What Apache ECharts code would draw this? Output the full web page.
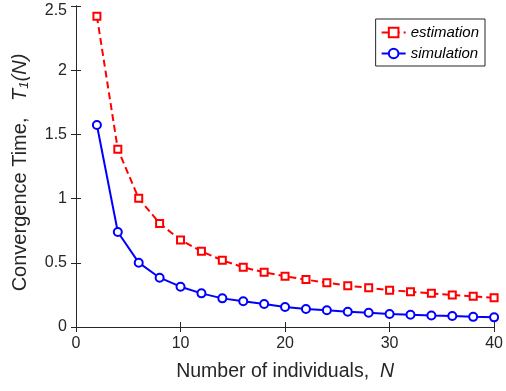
<!DOCTYPE html>
<html><head><meta charset="utf-8">
<script src="https://cdn.jsdelivr.net/npm/echarts@6/dist/echarts.min.js"></script>
<style>html,body{margin:0;padding:0;background:#fff}#c{width:506px;height:391px}</style>
</head><body><div id="c"></div>
<script>
const N = [2,4,6,8,10,12,14,16,18,20,22,24,26,28,30,32,34,36,38,40];
const estimation = [2.42,1.384,1.002,0.807,0.678,0.589,0.519,0.465,0.426,0.395,0.369,0.345,0.321,0.306,0.286,0.275,0.262,0.249,0.239,0.228];
const simulation = [1.573,0.74,0.501,0.384,0.314,0.262,0.223,0.2,0.179,0.156,0.14,0.13,0.119,0.111,0.101,0.095,0.09,0.086,0.079,0.075];
const xTicks = [0,10,20,30,40];
const yTicks = [0,0.5,1,1.5,2,2.5];

const axisColor = '#262626';
const font = 'Liberation Sans, Arial, Helvetica, sans-serif';
const chart = echarts.init(document.getElementById('c'), null, {renderer:'canvas'});
const pair = (xs, ys) => xs.map((x,i)=>[x, ys[i]]);
const yMax = yTicks[yTicks.length-1];
const fmtY = v => (v === yMax ? '{t|' + v + '}' : String(v));
chart.setOption({
  animation:false,
  backgroundColor:'#fff',
  grid:{left:76,right:9,top:6,bottom:64,containLabel:false},
  xAxis:[{
    type:'value',min:xTicks[0],max:xTicks[xTicks.length-1],interval:10,position:'bottom',
    name:'{n|Number of individuals,  }{i|N}',nameLocation:'middle',nameGap:35,
    nameTextStyle:{rich:{n:{fontFamily:font,fontSize:19.5,color:axisColor},i:{fontFamily:font,fontSize:19.5,fontStyle:'italic',color:axisColor}}},
    axisLine:{show:true,lineStyle:{color:axisColor,width:1}},
    axisTick:{show:true,inside:true,length:5,lineStyle:{color:axisColor,width:1}},
    axisLabel:{color:axisColor,fontFamily:font,fontSize:16,margin:9},
    splitLine:{show:false}
  },{
    type:'value',min:0,max:40,interval:10,position:'top',
    axisLine:{show:true,lineStyle:{color:axisColor,width:1}},
    axisTick:{show:true,inside:true,length:5,lineStyle:{color:axisColor,width:1}},
    axisLabel:{show:false},splitLine:{show:false}
  }],
  yAxis:[{
    type:'value',min:0,max:yMax,interval:0.5,position:'left',
    name:'{n|Convergence Time,   }{i|T}{s|1}{i|(N)}',nameLocation:'middle',nameGap:45,
    nameTextStyle:{padding:[0,12,0,0],rich:{n:{fontFamily:font,fontSize:20,color:axisColor},i:{fontFamily:font,fontSize:20,fontStyle:'italic',color:axisColor},s:{fontFamily:font,fontSize:13,fontStyle:'italic',color:axisColor,verticalAlign:'bottom',padding:[8,0,0,0]}}},
    axisLine:{show:true,lineStyle:{color:axisColor,width:1}},
    axisTick:{show:true,inside:true,length:5,lineStyle:{color:axisColor,width:1}},
    axisLabel:{color:axisColor,fontFamily:font,fontSize:16,margin:9,formatter:fmtY,
      rich:{t:{fontFamily:font,fontSize:16,color:axisColor,padding:[10,0,0,0]}}},
    splitLine:{show:false}
  },{
    type:'value',min:0,max:yMax,interval:0.5,position:'right',
    axisLine:{show:true,lineStyle:{color:axisColor,width:1}},
    axisTick:{show:true,inside:true,length:5,lineStyle:{color:axisColor,width:1}},
    axisLabel:{show:false},splitLine:{show:false}
  }],
  legend:{
    orient:'vertical',right:21,top:19,
    backgroundColor:'#fff',borderColor:'#262626',borderWidth:1,borderRadius:0,
    padding:[6,6,5,5],itemGap:6,itemWidth:24,itemHeight:12,
    textStyle:{fontFamily:font,fontSize:15,fontStyle:'italic',color:'#000'},
    data:['estimation','simulation']
  },
  series:[{
    name:'estimation',type:'line',data:pair(N,estimation),
    symbol:'emptyRect',symbolSize:7,
    lineStyle:{color:'#ff0000',width:2,type:[7,4]},
    itemStyle:{color:'#ff0000',borderColor:'#ff0000',borderWidth:2},
    z:3
  },{
    name:'simulation',type:'line',data:pair(N,simulation),
    symbol:'emptyCircle',symbolSize:8,
    lineStyle:{color:'#0000ff',width:2},
    itemStyle:{color:'#0000ff',borderColor:'#0000ff',borderWidth:2},
    z:3
  }]
});
</script></body></html>
